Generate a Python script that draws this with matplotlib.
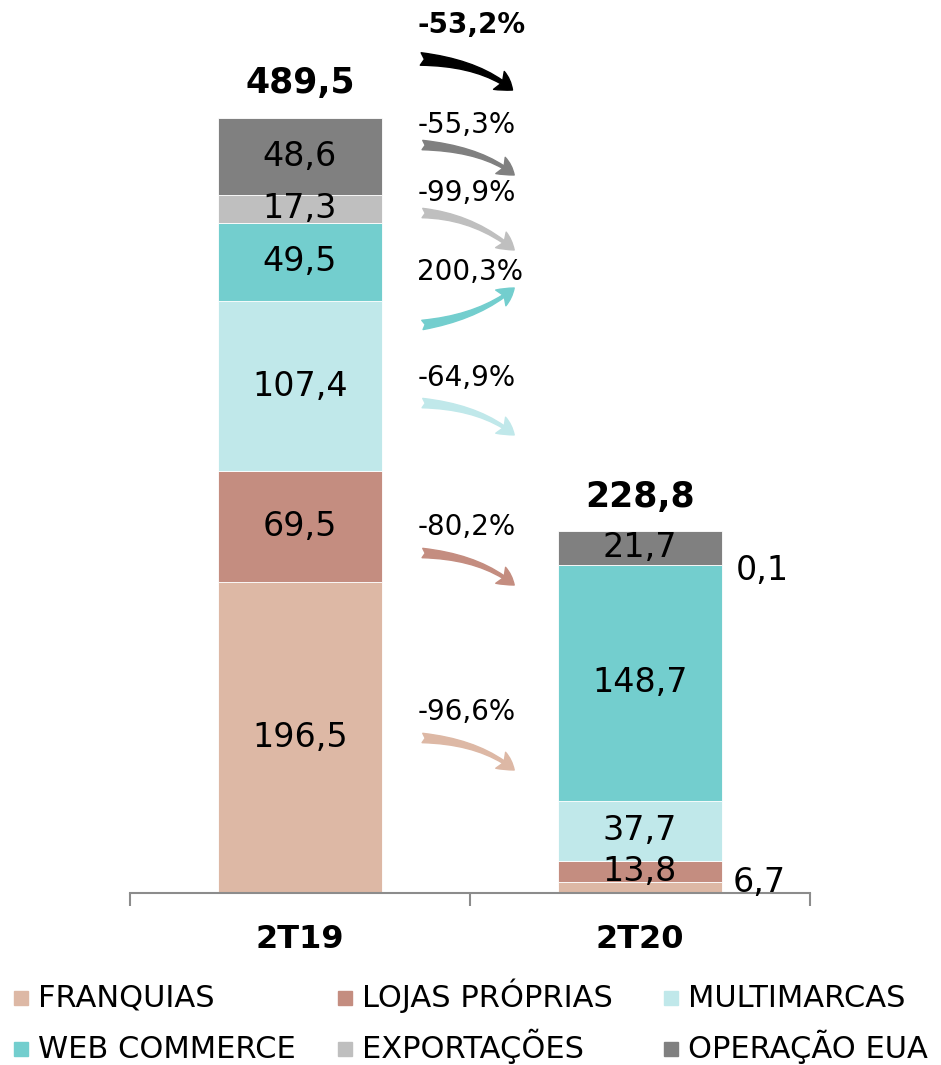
import numpy as np
import matplotlib
matplotlib.use('Agg')
from matplotlib import pyplot as plt
from matplotlib.patches import FancyArrowPatch, Rectangle

plt.rcParams['font.family'] = ['DejaVu Sans']

# dados (R$ milhões)
categorias = ['2T19', '2T20']
canais = ['FRANQUIAS', 'LOJAS PRÓPRIAS', 'MULTIMARCAS', 'WEB COMMERCE', 'EXPORTAÇÕES', 'OPERAÇÃO EUA']
valores_2t19 = [196.5, 69.5, 107.4, 49.5, 17.3, 48.6]
valores_2t20 = [6.7, 13.8, 37.7, 148.7, 0.1, 21.7]
totais = [489.5, 228.8]
variacoes = ['-96,6%', '-80,2%', '-64,9%', '200,3%', '-99,9%', '-55,3%']
variacao_total = '-53,2%'

cores = ['#DDB8A5', '#C48D80', '#C0E8EA', '#73CECE', '#BFBFBF', '#808080']

W, H = 941, 1065
fig = plt.figure(figsize=(W / 100, H / 100), dpi=100)
ax = fig.add_axes([130/W, 1 - 893/H, 680/W, 893/H])

x = np.arange(len(categorias))
largura = 0.48
fmt = lambda v: f'{v:.1f}'.replace('.', ',')

dados = np.array([valores_2t19, valores_2t20])
base = np.zeros(len(categorias))
for i, canal in enumerate(canais):
    ax.bar(x, dados[:, i], largura, bottom=base, color=cores[i],
           edgecolor='white', linewidth=0.6, label=canal)
    for j in range(len(categorias)):
        v = dados[j, i]
        if v >= 10:
            ax.text(x[j], base[j] + v / 2, fmt(v), ha='center', va='center',
                    fontsize=24, color='black')
    base += dados[:, i]

# rótulos fora da barra (valores pequenos do 2T20)
b_exp = sum(valores_2t20[:4])
ax.annotate(fmt(valores_2t20[4]), (x[1] + largura / 2, b_exp), xytext=(10, -4),
            textcoords='offset points', ha='left', va='center', fontsize=24)
ax.annotate(fmt(valores_2t20[0]), (x[1] + largura / 2, valores_2t20[0] / 2), xytext=(8, 4),
            textcoords='offset points', ha='left', va='center', fontsize=24)

# totais
for j, t in enumerate(totais):
    ax.annotate(fmt(t), (x[j], t), xytext=(0, 12), textcoords='offset points',
                ha='center', va='bottom', fontsize=25, fontweight='bold')

# setas de variação: (y rótulo, y início, y fim)
setas = [(114.2, 97.8, 77.6), (230.9, 214.5, 194.3), (324.9, 309.1, 289.0),
         (391.8, 358.4, 381.7), (441.6, 429.0, 405.7), (484.5, 471.9, 453.0)]
for k, (yl, y0, y1) in enumerate(setas):
    ax.text(0.345, yl, variacoes[k], ha='left', va='center', fontsize=20)
    estilo = 'angle3,angleA=8,angleB=40' if y1 > y0 else 'angle3,angleA=-4,angleB=-40'
    seta = FancyArrowPatch((0.36, y0), (0.63, y1), connectionstyle=estilo,
                           arrowstyle='fancy,head_length=0.8,head_width=0.9,tail_width=0.45',
                           mutation_scale=15, color=cores[k], shrinkA=0, shrinkB=0)
    ax.add_patch(seta)

ax.text(0.345, 547.6, variacao_total, ha='left', va='center', fontsize=20, fontweight='bold')
ax.add_patch(FancyArrowPatch((0.355, 526.2), (0.625, 506.6), connectionstyle='angle3,angleA=-4,angleB=-40',
                             arrowstyle='fancy,head_length=0.8,head_width=1.0,tail_width=0.6',
                             mutation_scale=15, color='black', shrinkA=0, shrinkB=0))

ax.set_xlim(-0.5, 1.5)
ax.set_ylim(0, 893 / 1.585)
for s in ['top', 'right', 'left']:
    ax.spines[s].set_visible(False)
ax.spines['bottom'].set_color('#8C8C8C')
ax.spines['bottom'].set_linewidth(1.5)
ax.set_yticks([])
ax.set_xticks(x)
ax.set_xticklabels(categorias, fontsize=23, fontweight='bold')
ax.tick_params(axis='x', which='major', length=0, pad=22)
ax.set_xticks([-0.5, 0.5, 1.5], minor=True)
ax.tick_params(axis='x', which='minor', length=9, width=1.5, color='#8C8C8C', direction='out')

# legenda montada à mão (3 colunas x 2 linhas) para alinhar as linhas de base
col_x = [14, 338, 664]
lin_base = [1007, 1058]
for i, canal in enumerate(canais):
    cx = col_x[i % 3]
    by = lin_base[i // 3]
    fig.patches.append(Rectangle((cx / W, 1 - (by - 2) / H), 14 / W, 14 / H,
                                 transform=fig.transFigure, color=cores[i]))
    fig.text((cx + 24) / W, 1 - by / H, canal, ha='left', va='baseline', fontsize=22)

fig.savefig('out.png', dpi=100)
